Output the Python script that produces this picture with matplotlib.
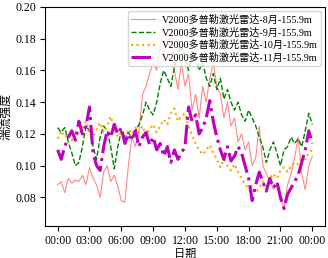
import numpy as np
import matplotlib
matplotlib.use("Agg")
import matplotlib.pyplot as plt

plt.rcParams['font.family'] = ['Liberation Serif', 'Noto Sans CJK SC']
plt.rcParams['axes.unicode_minus'] = False

# time of day in hours, 20-minute steps
hours = [i / 3 for i in range(73)]

aug = [0.088, 0.090, 0.083, 0.092, 0.089, 0.091, 0.090, 0.094, 0.088, 0.099,
       0.092, 0.088, 0.080, 0.096, 0.100, 0.090, 0.094, 0.087, 0.078, 0.077,
       0.100, 0.118, 0.112, 0.122, 0.145, 0.150, 0.158, 0.165, 0.160, 0.175,
       0.168, 0.185, 0.192, 0.160, 0.148, 0.165, 0.150, 0.158, 0.135, 0.145,
       0.130, 0.150, 0.140, 0.155, 0.165, 0.150, 0.145, 0.130, 0.140, 0.125,
       0.130, 0.115, 0.120, 0.110, 0.115, 0.100, 0.105, 0.125, 0.100, 0.095,
       0.090, 0.085, 0.088, 0.078, 0.074, 0.088, 0.095, 0.105, 0.118, 0.095,
       0.085, 0.100, 0.106]

sep = [0.124, 0.121, 0.124, 0.115, 0.108, 0.100, 0.102, 0.112, 0.125, 0.122,
       0.112, 0.104, 0.118, 0.125, 0.122, 0.112, 0.098, 0.112, 0.122, 0.118,
       0.121, 0.117, 0.122, 0.126, 0.132, 0.140, 0.135, 0.132, 0.140, 0.152,
       0.160, 0.155, 0.150, 0.162, 0.170, 0.176, 0.168, 0.160, 0.172, 0.168,
       0.160, 0.165, 0.155, 0.150, 0.158, 0.148, 0.155, 0.142, 0.148, 0.140,
       0.135, 0.140, 0.132, 0.128, 0.135, 0.130, 0.125, 0.118, 0.112, 0.102,
       0.110, 0.115, 0.108, 0.100, 0.110, 0.112, 0.118, 0.114, 0.117, 0.112,
       0.122, 0.133, 0.126]

octo = [0.117, 0.122, 0.118, 0.120, 0.116, 0.121, 0.119, 0.124, 0.128, 0.120,
        0.118, 0.123, 0.127, 0.121, 0.125, 0.131, 0.124, 0.118, 0.121, 0.117,
        0.123, 0.120, 0.124, 0.121, 0.125, 0.119, 0.123, 0.126, 0.121, 0.125,
        0.129, 0.126, 0.133, 0.136, 0.128, 0.131, 0.133, 0.125, 0.119, 0.114,
        0.110, 0.107, 0.110, 0.113, 0.108, 0.104, 0.099, 0.104, 0.100, 0.097,
        0.101, 0.096, 0.092, 0.088, 0.086, 0.087, 0.083, 0.086, 0.090, 0.087,
        0.092, 0.095, 0.092, 0.097, 0.099, 0.096, 0.100, 0.102, 0.101, 0.105,
        0.104, 0.108, 0.110]

nov = [0.110, 0.104, 0.112, 0.118, 0.122, 0.116, 0.128, 0.120, 0.125, 0.137,
       0.108, 0.100, 0.097, 0.112, 0.122, 0.118, 0.126, 0.120, 0.124, 0.114,
       0.120, 0.116, 0.122, 0.112, 0.118, 0.121, 0.113, 0.118, 0.110, 0.114,
       0.106, 0.112, 0.102, 0.110, 0.104, 0.108, 0.112, 0.137, 0.128, 0.132,
       0.120, 0.124, 0.130, 0.141, 0.128, 0.118, 0.110, 0.104, 0.112, 0.103,
       0.106, 0.112, 0.108, 0.100, 0.092, 0.078, 0.088, 0.096, 0.090, 0.084,
       0.092, 0.086, 0.090, 0.080, 0.073, 0.082, 0.086, 0.090, 0.094, 0.102,
       0.110, 0.122, 0.114]

labels = ['V2000多普勒激光雷达-8月-155.9m', 'V2000多普勒激光雷达-9月-155.9m',
          'V2000多普勒激光雷达-10月-155.9m', 'V2000多普勒激光雷达-11月-155.9m']
xticks = [0, 3, 6, 9, 12, 15, 18, 21, 24]
xticklabels = ['00:00', '03:00', '06:00', '09:00', '12:00', '15:00', '18:00', '21:00', '00:00']

fig = plt.figure(figsize=(3.28, 2.58), dpi=100)
ax = fig.add_axes([0.137, 0.124, 0.854, 0.849])

ax.plot(hours, aug, color='#ff5555', alpha=0.7, lw=0.8, label=labels[0])
ax.plot(hours, sep, color='green', ls='--', lw=1.0, label=labels[1])
ax.plot(hours, octo, color='orange', ls=':', lw=1.5, label=labels[2])
ax.plot(hours, nov, color='m', ls='-.', lw=2.2, label=labels[3])

ax.set_ylim(0.062, 0.20)
ax.set_yticks([0.08, 0.10, 0.12, 0.14, 0.16, 0.18, 0.20])
ax.set_xticks(xticks)
ax.set_xticklabels(xticklabels)
ax.tick_params(labelsize=8.5, pad=3, length=3.5)
ax.set_xlabel('日期', fontsize=8, labelpad=1)
ax.set_ylabel('湍流强度', fontsize=8.5, labelpad=2)
ax.legend(loc='upper right', fontsize=7.3, handlelength=2.4, borderpad=0.35,
          labelspacing=0.25, handletextpad=0.6, framealpha=0.8,
          borderaxespad=0.4)

fig.savefig('out.png', dpi=100)
